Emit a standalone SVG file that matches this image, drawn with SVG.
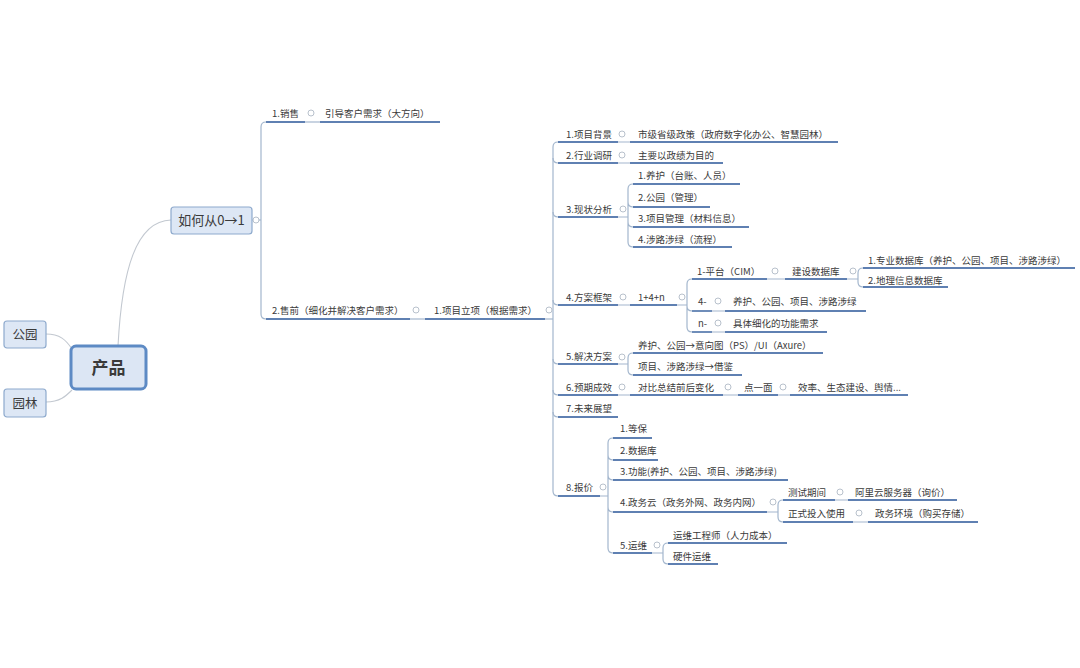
<svg xmlns="http://www.w3.org/2000/svg" width="1080" height="668" viewBox="0 0 1080 668">
<style>
text{font-family:"Noto Sans CJK SC","Microsoft YaHei",sans-serif;fill:#3a3a3a}
.t{font-size:9.5px}
.u{stroke:#5f80b2;stroke-width:1.8;fill:none}
.c{stroke:#a3b6cd;stroke-width:1.2;fill:none}
.g{stroke:#c2c8d0;stroke-width:1.1;fill:none}
.o{fill:#fff;stroke:#b8c1cc;stroke-width:1}
.b{fill:#dde7f5;stroke:#8eaacd;stroke-width:1.2}
</style>
<rect width="1080" height="668" fill="#fff"/>
<g id="connectors">
<path class="g" d="M46,334 C60,334 66,340 72,349"/>
<path class="g" d="M46,402 C60,402 66,396 72,390"/>
<path class="g" d="M118,346 C122,270 136,221 171,220"/>
<path class="c" d="M252,220 H261"/>
<path class="c" d="M266,122 Q261,122 261,127 V314 Q261,319 266,319"/>
<path class="c" d="M305,122 H320"/>
<path class="c" d="M410,319 H425"/>
<path class="c" d="M545,319 H553"/>
<path class="c" d="M558,142 Q553,142 553,147 V491 Q553,496 558,496"/>
<path class="c" d="M553,158 Q553,163 558,163 M553,212 Q553,217 558,217 M553,300 Q553,305 558,305 M553,359 Q553,364 558,364 M553,390 Q553,395 558,395 M553,412 Q553,417 558,417"/>
<path class="c" d="M618,142 H630 M618,163 H630 M618,305 H630 M618,395 H630 M723,395 H738 M778,395 H790"/>
<path class="c" d="M618,217 H628 M633,184 Q628,184 628,189 V242 Q628,247 633,247 M628,202 Q628,207 633,207 M628,222 Q628,227 633,227"/>
<path class="c" d="M677,305 H687 M692,279 Q687,279 687,284 V327 Q687,332 692,332 M687,306 Q687,311 692,311"/>
<path class="c" d="M767,279 H785 M712,311 H725 M712,332 H725"/>
<path class="c" d="M847,279 H858 M863,268 Q858,268 858,273 V282 Q858,287 863,287"/>
<path class="c" d="M618,364 H628 M633,353 Q628,353 628,358 V370 Q628,375 633,375"/>
<path class="c" d="M600,496 H608 M613,438 Q608,438 608,443 V548 Q608,553 613,553 M608,455 Q608,460 613,460 M608,475 Q608,480 613,480 M608,507 Q608,512 613,512"/>
<path class="c" d="M767,512 H778 M783,500 Q778,500 778,505 V517 Q778,522 783,522 M835,500 H848 M853,522 H868"/>
<path class="c" d="M652,553 H663 M668,543 Q663,543 663,548 V559 Q663,564 668,564"/>
</g>
<g id="n-chanpin"><rect x="71" y="346" width="75" height="43" rx="5" fill="#dce6f4" stroke="#5d8ac4" stroke-width="3"/><text x="108.5" y="374" text-anchor="middle" font-size="17" font-weight="bold" fill="#34425e">产品</text></g>
<g id="n-gongyuan"><rect class="b" x="4" y="321" width="42" height="27" rx="3"/><text x="25" y="339" text-anchor="middle" font-size="12.5">公园</text></g>
<g id="n-yuanlin"><rect class="b" x="4" y="389" width="42" height="28" rx="3"/><text x="25" y="407.5" text-anchor="middle" font-size="12.5">园林</text></g>
<g id="n-ruhe"><rect class="b" x="171" y="207" width="81" height="27" rx="3"/><text x="211.5" y="225" text-anchor="middle" font-size="13">如何从0→1</text><circle class="o" cx="256" cy="220" r="3"/></g>
<g id="n-xiaoshou"><text class="t" x="272" y="116.5">1.销售</text><path class="u" d="M266,122 H305"/><circle class="o" cx="311" cy="113" r="3"/></g>
<g id="n-yindao"><text class="t" x="325" y="116.5">引导客户需求（大方向）</text><path class="u" d="M320,122 H440"/></g>
<g id="n-shouqian"><text class="t" x="272" y="313.5">2.售前（细化并解决客户需求）</text><path class="u" d="M266,319 H410"/><circle class="o" cx="416" cy="310" r="3"/></g>
<g id="n-lixiang"><text class="t" x="434" y="313.5">1.项目立项（根据需求）</text><path class="u" d="M425,319 H545"/><circle class="o" cx="549" cy="310" r="3"/></g>
<g id="n-beijing"><text class="t" x="566" y="137.5">1.项目背景</text><path class="u" d="M558,142 H618"/><circle class="o" cx="622" cy="134" r="3"/></g>
<g id="n-zhengce"><text class="t" x="638" y="137.5">市级省级政策（政府数字化办公、智慧园林）</text><path class="u" d="M630,142 H838"/></g>
<g id="n-diaoyan"><text class="t" x="566" y="158.5">2.行业调研</text><path class="u" d="M558,163 H618"/><circle class="o" cx="622" cy="155" r="3"/></g>
<g id="n-zhengji"><text class="t" x="638" y="158.5">主要以政绩为目的</text><path class="u" d="M630,163 H723"/></g>
<g id="n-xianzhuang"><text class="t" x="566" y="212.5">3.现状分析</text><path class="u" d="M558,217 H618"/><circle class="o" cx="623" cy="209" r="3"/></g>
<g id="n-yanghu"><text class="t" x="638" y="178.5">1.养护（台账、人员）</text><path class="u" d="M633,184 H740"/></g>
<g id="n-gongyuan2"><text class="t" x="638" y="200.5">2.公园（管理）</text><path class="u" d="M633,207 H710"/></g>
<g id="n-xmgl"><text class="t" x="638" y="221.5">3.项目管理（材料信息）</text><path class="u" d="M633,227 H749"/></g>
<g id="n-shelu"><text class="t" x="638" y="242.5">4.涉路涉绿（流程）</text><path class="u" d="M633,247 H732"/></g>
<g id="n-kuangjia"><text class="t" x="566" y="300.5">4.方案框架</text><path class="u" d="M558,305 H618"/><circle class="o" cx="623" cy="297" r="3"/></g>
<g id="n-14n"><text class="t" x="638" y="300.5">1+4+n</text><path class="u" d="M630,305 H677"/><circle class="o" cx="682" cy="297" r="3"/></g>
<g id="n-pingtai"><text class="t" x="697" y="274.5">1-平台（CIM）</text><path class="u" d="M692,279 H767"/><circle class="o" cx="775" cy="271" r="3"/></g>
<g id="n-jianshe"><text class="t" x="792" y="274.5">建设数据库</text><path class="u" d="M785,279 H847"/><circle class="o" cx="853" cy="271" r="3"/></g>
<g id="n-zhuanye"><text class="t" x="868" y="263.5">1.专业数据库（养护、公园、项目、涉路涉绿）</text><path class="u" d="M863,268 H1075"/></g>
<g id="n-dili"><text class="t" x="868" y="283.5">2.地理信息数据库</text><path class="u" d="M863,287 H948"/></g>
<g id="n-four"><text class="t" x="698" y="304.5">4-</text><path class="u" d="M692,311 H712"/><circle class="o" cx="718" cy="301" r="3"/></g>
<g id="n-fourc"><text class="t" x="733" y="304.5">养护、公园、项目、涉路涉绿</text><path class="u" d="M725,311 H866"/></g>
<g id="n-n"><text class="t" x="698" y="326.5">n-</text><path class="u" d="M692,332 H712"/><circle class="o" cx="718" cy="323" r="3"/></g>
<g id="n-nc"><text class="t" x="733" y="326.5">具体细化的功能需求</text><path class="u" d="M725,332 H827"/></g>
<g id="n-jiejue"><text class="t" x="566" y="359.5">5.解决方案</text><path class="u" d="M558,364 H618"/><circle class="o" cx="622" cy="357" r="3"/></g>
<g id="n-yixiang"><text class="t" x="638" y="348.5">养护、公园→意向图（PS）/UI（Axure）</text><path class="u" d="M633,353 H823"/></g>
<g id="n-jiejian"><text class="t" x="638" y="369.5">项目、涉路涉绿→借鉴</text><path class="u" d="M633,375 H742"/></g>
<g id="n-yuqi"><text class="t" x="566" y="390.5">6.预期成效</text><path class="u" d="M558,395 H618"/><circle class="o" cx="622" cy="387" r="3"/></g>
<g id="n-duibi"><text class="t" x="638" y="390.5">对比总结前后变化</text><path class="u" d="M630,395 H723"/><circle class="o" cx="728" cy="387" r="3"/></g>
<g id="n-dianmian"><text class="t" x="744" y="390.5">点一面</text><path class="u" d="M738,395 H778"/><circle class="o" cx="783" cy="387" r="3"/></g>
<g id="n-xiaolv"><text class="t" x="798" y="390.5">效率、生态建设、舆情...</text><path class="u" d="M790,395 H908"/></g>
<g id="n-weilai"><text class="t" x="566" y="411.5">7.未来展望</text><path class="u" d="M558,417 H618"/></g>
<g id="n-baojia"><text class="t" x="566" y="490.5">8.报价</text><path class="u" d="M558,496 H600"/><circle class="o" cx="603" cy="487" r="3"/></g>
<g id="n-dengbao"><text class="t" x="620" y="431.5">1.等保</text><path class="u" d="M613,438 H652"/></g>
<g id="n-shujuku"><text class="t" x="620" y="453.5">2.数据库</text><path class="u" d="M613,460 H658"/></g>
<g id="n-gongneng"><text class="t" x="620" y="474.5">3.功能(养护、公园、项目、涉路涉绿)</text><path class="u" d="M613,480 H788"/></g>
<g id="n-zhengwuyun"><text class="t" x="620" y="505.5">4.政务云（政务外网、政务内网）</text><path class="u" d="M613,512 H767"/><circle class="o" cx="773" cy="502" r="3"/></g>
<g id="n-ceshi"><text class="t" x="788" y="495.5">测试期间</text><path class="u" d="M783,500 H835"/><circle class="o" cx="840" cy="492" r="3"/></g>
<g id="n-aliyun"><text class="t" x="855" y="495.5">阿里云服务器（询价）</text><path class="u" d="M848,500 H957"/></g>
<g id="n-zhengshi"><text class="t" x="788" y="516.5">正式投入使用</text><path class="u" d="M783,522 H853"/><circle class="o" cx="859" cy="513" r="3"/></g>
<g id="n-huanjing"><text class="t" x="875" y="516.5">政务环境（购买存储）</text><path class="u" d="M868,522 H978"/></g>
<g id="n-yunwei"><text class="t" x="620" y="548.5">5.运维</text><path class="u" d="M613,553 H652"/><circle class="o" cx="657" cy="545" r="3"/></g>
<g id="n-gcs"><text class="t" x="673" y="538.5">运维工程师（人力成本）</text><path class="u" d="M668,543 H787"/></g>
<g id="n-yingjian"><text class="t" x="673" y="559.5">硬件运维</text><path class="u" d="M668,564 H718"/></g>
</svg>
